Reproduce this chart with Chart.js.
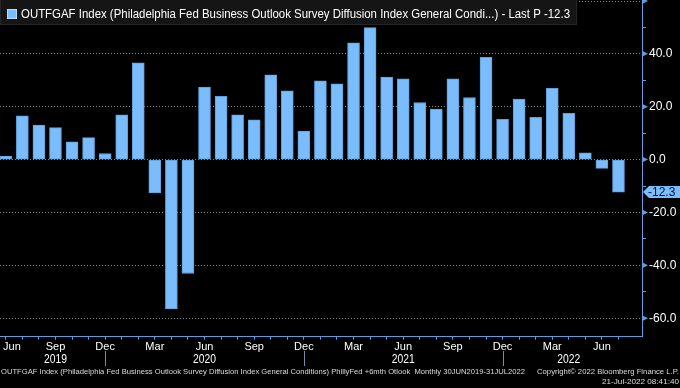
<!DOCTYPE html>
<html>
<head>
<meta charset="utf-8">
<script src="https://cdn.jsdelivr.net/npm/chart.js@4/dist/chart.umd.min.js"></script>
<style>
  html, body { margin: 0; padding: 0; background: #000; }
  #wrap { width: 680px; height: 388px; position: relative; }
</style>
</head>
<body>
<div id="wrap"><canvas id="chart"></canvas></div>
<script>
// monthly bars, Jun 2019 .. Jul 2022
const categories = [
    'Jun 2019', 'Jul 2019', 'Aug 2019', 'Sep 2019', 'Oct 2019', 'Nov 2019', 'Dec 2019',
    'Jan 2020', 'Feb 2020', 'Mar 2020', 'Apr 2020', 'May 2020', 'Jun 2020', 'Jul 2020',
    'Aug 2020', 'Sep 2020', 'Oct 2020', 'Nov 2020', 'Dec 2020',
    'Jan 2021', 'Feb 2021', 'Mar 2021', 'Apr 2021', 'May 2021', 'Jun 2021', 'Jul 2021',
    'Aug 2021', 'Sep 2021', 'Oct 2021', 'Nov 2021', 'Dec 2021',
    'Jan 2022', 'Feb 2022', 'Mar 2022', 'Apr 2022', 'May 2022', 'Jun 2022', 'Jul 2022'
];
const outlookValues = [
    1.3, 16.6, 13.1, 12.1, 6.7, 8.3, 2.3,
    16.9, 36.6, -12.6, -56.5, -43.1, 27.4, 23.9,
    16.9, 15.0, 32.1, 26.0, 10.8,
    29.8, 28.7, 44.2, 49.9, 31.2, 30.6, 21.6,
    19.1, 30.6, 23.5, 38.7, 15.2,
    22.9, 16.0, 27.0, 17.5, 2.6, -3.3, -12.3
];
const yearLabels = ['2019', '2020', '2021', '2022'];
const yTicks = [-60, -50, -40, -30, -20, -10, 0, 10, 20, 30, 40, 50, 60];

const titleText = 'OUTFGAF Index (Philadelphia Fed Business Outlook Survey Diffusion Index General Condi...) - Last P -12.3';
const footText = 'OUTFGAF Index (Philadelphia Fed Business Outlook Survey Diffusion Index General Conditions) PhillyFed +6mth Otlook  Monthly 30JUN2019-31JUL2022';
const copyText = 'Copyright\u00A9 2022 Bloomberg Finance L.P.';
const stampText = '21-Jul-2022 08:41:40';

const BAR = '#7bbdfc';
const AXIS = '#5b9fe0';
const FONT = '"Liberation Sans", Arial, sans-serif';

// draw text squeezed/stretched to a given width
function fitText(ctx, text, x, y, width) {
    const w = ctx.measureText(text).width;
    ctx.save();
    ctx.translate(x, y);
    ctx.scale(width / w, 1);
    ctx.fillText(text, 0, 0);
    ctx.restore();
}

const decorations = {
    id: 'decorations',
    afterDraw(chart) {
        const ctx = chart.ctx;
        const xs = chart.scales.x;
        const ys = chart.scales.y;
        const area = chart.chartArea;

        // triangles on the major y ticks
        ctx.save();
        ctx.fillStyle = AXIS;
        yTicks.forEach(v => {
            if (v % 20 !== 0) return;
            const py = ys.getPixelForValue(v);
            ctx.beginPath();
            ctx.moveTo(area.right, py - 3);
            ctx.lineTo(area.right + 6, py);
            ctx.lineTo(area.right, py + 3);
            ctx.closePath();
            ctx.fill();
        });
        ctx.restore();

        // year labels and separators
        ctx.save();
        ctx.fillStyle = '#ffffff';
        ctx.font = '13px ' + FONT;
        ctx.textBaseline = 'middle';
        yearLabels.forEach(yr => {
            const idx = [];
            categories.forEach((c, i) => { if (c.endsWith(yr)) idx.push(i); });
            const mid = Math.floor((idx[0] + idx[idx.length - 1]) / 2);
            fitText(ctx, yr, xs.getPixelForValue(mid) - 11.5, 359, 23);
        });
        ctx.strokeStyle = '#6f8fb0';
        ctx.lineWidth = 1;
        categories.forEach((c, i) => {
            if (c.startsWith('Dec')) {
                const px = Math.round(xs.getPixelForValue(i)) + 0.5;
                ctx.beginPath();
                ctx.moveTo(px, 351);
                ctx.lineTo(px, 366);
                ctx.stroke();
            }
        });
        ctx.restore();

        // last value tag
        const last = outlookValues[outlookValues.length - 1];
        const ty = ys.getPixelForValue(last);
        ctx.save();
        ctx.fillStyle = BAR;
        ctx.beginPath();
        ctx.moveTo(area.right + 1, ty);
        ctx.lineTo(area.right + 7, ty - 6);
        ctx.lineTo(680, ty - 6);
        ctx.lineTo(680, ty + 6);
        ctx.lineTo(area.right + 7, ty + 6);
        ctx.closePath();
        ctx.fill();
        ctx.fillStyle = '#06121f';
        ctx.font = '12px ' + FONT;
        ctx.textBaseline = 'middle';
        ctx.fillText(last.toFixed(1), area.right + 6, ty + 0.5);
        ctx.restore();

        // title box
        ctx.save();
        ctx.fillStyle = '#151515';
        ctx.fillRect(0, 0, 577, 25);
        ctx.strokeStyle = '#262626';
        ctx.strokeRect(0.5, -0.5, 576, 25);
        ctx.fillStyle = BAR;
        ctx.fillRect(7, 9, 10, 10);
        ctx.strokeStyle = '#b5dbff';
        ctx.strokeRect(7.5, 9.5, 9, 9);
        ctx.fillStyle = '#ffffff';
        ctx.font = '12px ' + FONT;
        ctx.textBaseline = 'middle';
        fitText(ctx, titleText, 21, 14.5, 549);
        ctx.restore();

        // footnotes
        ctx.save();
        ctx.fillStyle = '#dcdcdc';
        ctx.font = '8px ' + FONT;
        ctx.textBaseline = 'middle';
        fitText(ctx, footText, 1, 372, 524);
        fitText(ctx, copyText, 537, 372, 142);
        fitText(ctx, stampText, 602, 382, 77);
        ctx.restore();
    }
};

const ctx = document.getElementById('chart').getContext('2d');
new Chart(ctx, {
    type: 'bar',
    data: {
        labels: categories,
        datasets: [{
            label: 'OUTFGAF Index',
            data: outlookValues.map((v, i) => ({ x: i, y: v })),
            backgroundColor: BAR,
            borderColor: '#5e9fdc',
            borderWidth: 1,
            borderSkipped: false,
            barThickness: 12
        }]
    },
    options: {
        responsive: true,
        maintainAspectRatio: false,
        animation: false,
        layout: { padding: { top: 1, left: 0, right: 0, bottom: 0 } },
        plugins: {
            legend: { display: false },
            tooltip: { enabled: false }
        },
        scales: {
            x: {
                type: 'linear',
                offset: false,
                min: -0.35,
                max: 38.42,
                afterBuildTicks: s => { s.ticks = categories.map((c, i) => ({ value: i })); },
                afterFit: s => { s.height = 51.3; s.paddingLeft = 0; s.paddingRight = 0; },
                ticks: {
                    autoSkip: false,
                    maxRotation: 0,
                    color: '#ffffff',
                    font: { size: 11, family: FONT },
                    padding: 1,
                    callback: (v) => {
                        const c = categories[v];
                        if (!c || v % 3 !== 0) return '';
                        // first label is nudged right so it stays inside the canvas
                        return (v === 0 ? '    ' : '') + c.split(' ')[0];
                    }
                },
                grid: {
                    offset: false,
                    drawOnChartArea: false,
                    drawTicks: true,
                    tickLength: 3,
                    tickColor: AXIS
                },
                border: { display: true, color: AXIS, width: 1 }
            },
            y: {
                position: 'right',
                min: -67,
                max: 60,
                afterBuildTicks: s => { s.ticks = yTicks.map(v => ({ value: v })); },
                afterFit: s => { s.width = 38; s.paddingTop = 0; s.paddingBottom = 0; },
                ticks: {
                    color: '#ffffff',
                    font: { size: 12, family: FONT },
                    padding: 3,
                    callback: v => (v % 20 === 0 && v < 60) ? v.toFixed(1) : ''
                },
                grid: {
                    color: c => (c.tick && c.tick.value % 20 === 0) ? 'rgba(150,150,150,0.9)' : 'rgba(0,0,0,0)',
                    drawTicks: true,
                    tickLength: 4,
                    tickColor: AXIS
                },
                border: { display: true, color: AXIS, width: 1, dash: [1, 2] }
            }
        }
    },
    plugins: [decorations]
});
</script>
</body>
</html>
